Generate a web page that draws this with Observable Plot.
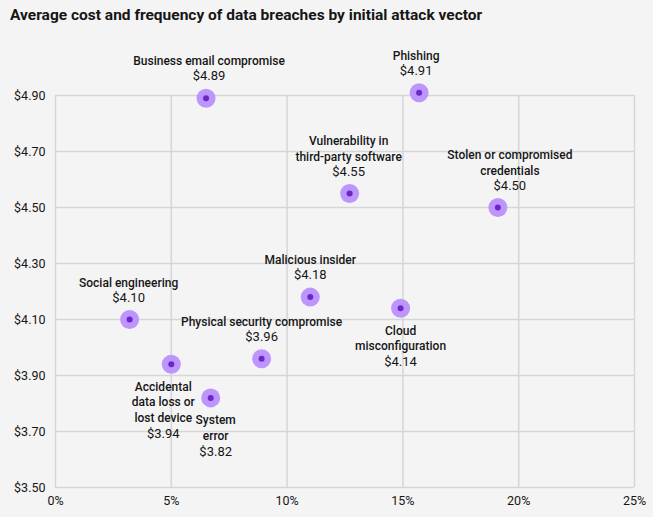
<!DOCTYPE html>
<html>
<head>
<meta charset="utf-8">
<script src="https://cdn.jsdelivr.net/npm/d3@7"></script>
<script src="https://cdn.jsdelivr.net/npm/@observablehq/plot@0.6"></script>
<style>
  html, body { margin: 0; padding: 0; background: #f4f4f4; }
  body { width: 653px; height: 517px; overflow: hidden; font-family: "Roboto", "Noto Sans", sans-serif; color: #161616; }
  #title { height: 30px; line-height: 30px; padding-left: 10px; font-size: 15.5px; font-weight: bold; white-space: nowrap; }
  #chart svg { display: block; }
</style>
</head>
<body>
<div id="title">Average cost and frequency of data breaches by initial attack vector</div>
<div id="chart"></div>
<script>
// Data
const vectors = [
  "Business email compromise",
  "Phishing",
  "Vulnerability in\nthird-party software",
  "Stolen or compromised\ncredentials",
  "Malicious insider",
  "Social engineering",
  "Physical security compromise",
  "Cloud\nmisconfiguration",
  "Accidental\ndata loss or\nlost device",
  "System\nerror"
];
const frequency = [0.065, 0.157, 0.127, 0.191, 0.110, 0.032, 0.089, 0.149, 0.050, 0.067];
const cost = [4.89, 4.91, 4.55, 4.50, 4.18, 4.10, 3.96, 4.14, 3.94, 3.82];
const xTicks = [0, 0.05, 0.10, 0.15, 0.20, 0.25];
const yTicks = [3.5, 3.7, 3.9, 4.1, 4.3, 4.5, 4.7, 4.9];

// Label placement (side of point, horizontal nudge in px)
const labelSide = ["top", "top", "top", "top", "top", "top", "top", "bottom", "bottom", "bottom"];
const labelDx = [3, -3, -1, 12, 0, -1, 0, 0, -8, 5];

const rows = vectors.map((v, i) => ({name: v, freq: frequency[i], cost: cost[i], lines: v.split("\n").length}));

const lineH = 15.5;
const nameStyle = {fontSize: 12, fontWeight: 500, fill: "#161616", lineHeight: 1.29, fontFamily: "Roboto, sans-serif"};
const valueStyle = {fontSize: 13, fontWeight: 400, fill: "#161616", fontFamily: "Roboto, sans-serif"};
const labelMarks = rows.flatMap((r, i) => {
  const dx = labelDx[i];
  const valueText = "$" + r.cost.toFixed(2);
  if (labelSide[i] === "top") {
    return [
      Plot.text([r], {x: "freq", y: "cost", text: "name", dx, dy: -33, lineAnchor: "bottom", ...nameStyle}),
      Plot.text([r], {x: "freq", y: "cost", text: () => valueText, dx, dy: -22, lineAnchor: "middle", ...valueStyle})
    ];
  } else {
    return [
      Plot.text([r], {x: "freq", y: "cost", text: "name", dx, dy: 15.5, lineAnchor: "top", ...nameStyle}),
      Plot.text([r], {x: "freq", y: "cost", text: () => valueText, dx, dy: 23 + lineH * r.lines, lineAnchor: "middle", ...valueStyle})
    ];
  }
});

const chart = Plot.plot({
  width: 653,
  height: 487,
  marginTop: 65,
  marginBottom: 30,
  marginLeft: 55,
  marginRight: 19,
  style: {background: "transparent", fontFamily: "Roboto, sans-serif", fontSize: "12.5px", color: "#161616"},
  x: {domain: [0, 0.25], ticks: xTicks, tickFormat: d => Math.round(d * 100) + "%", label: null},
  y: {domain: [3.5, 4.9], ticks: yTicks, tickFormat: d => "$" + d.toFixed(2), label: null},
  marks: [
    Plot.gridX(xTicks, {stroke: "#d6d6d6", strokeOpacity: 1, strokeWidth: 1.5}),
    Plot.gridY(yTicks, {stroke: "#d6d6d6", strokeOpacity: 1, strokeWidth: 1.5}),
    Plot.axisX(xTicks, {tickSize: 0, tickPadding: 9, tickFormat: d => Math.round(d * 100) + "%", fontSize: 12.5, fill: "#161616"}),
    Plot.axisY(yTicks, {tickSize: 0, tickPadding: 10, tickFormat: d => "$" + d.toFixed(2), fontSize: 12.5, fill: "#161616"}),
    Plot.dot(rows, {x: "freq", y: "cost", r: 9.5, fill: "#be95ff", stroke: null}),
    Plot.dot(rows, {x: "freq", y: "cost", r: 3, fill: "#6929c4", stroke: null}),
    ...labelMarks
  ]
});
document.getElementById("chart").appendChild(chart);
</script>
</body>
</html>
